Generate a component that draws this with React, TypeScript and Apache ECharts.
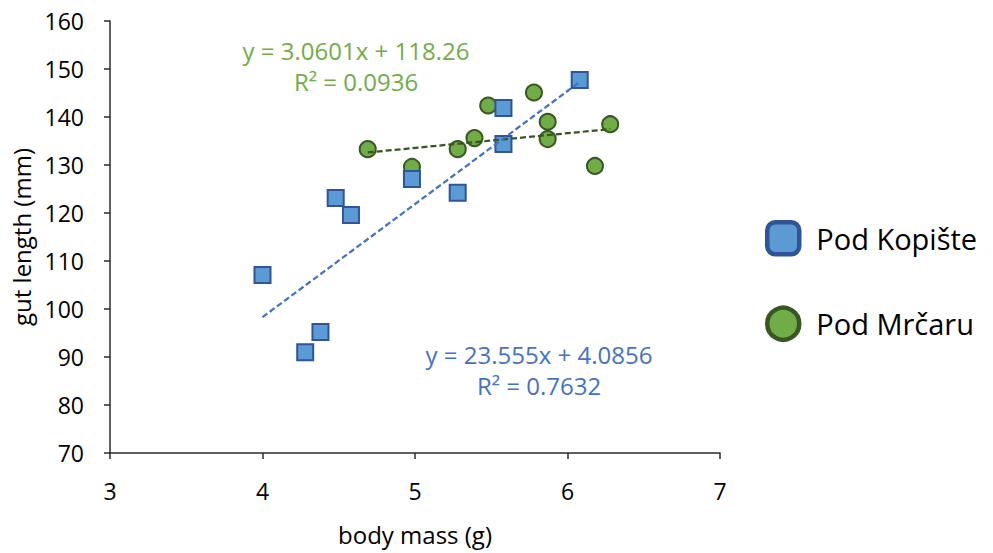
import React, { useEffect, useRef } from "react";
import * as echarts from "echarts";

// Body mass (g) and gut length (mm) per site
const kopisteMass = [4.0, 4.28, 4.38, 4.48, 4.58, 4.98, 5.28, 5.58, 5.58, 6.08];
const kopisteGut = [107.1, 91.0, 95.2, 123.1, 119.6, 127.1, 124.2, 141.9, 134.4, 147.7];
const mrcaruMass = [4.69, 4.98, 5.28, 5.39, 5.48, 5.78, 5.87, 5.87, 6.18, 6.28];
const mrcaruGut = [133.3, 129.6, 133.3, 135.6, 142.4, 145.1, 139.0, 135.4, 129.8, 138.5];

// Linear fits: [slope, intercept, R²]
const kopisteFit = [23.555, 4.0856, 0.7632];
const mrcaruFit = [3.0601, 118.26, 0.0936];

const seriesNames = ["Pod Kopište", "Pod Mrčaru"];
const xTicks = { min: 3, max: 7, interval: 1 };
const yTicks = { min: 70, max: 160, interval: 10 };

const FONT = "'Open Sans', 'Noto Sans', sans-serif";

const zip = (xs: number[], ys: number[]) => xs.map((x, i) => [x, ys[i]]);

const fitLine = (xs: number[], fit: number[]) => {
  const lo = Math.min(...xs);
  const hi = Math.max(...xs);
  return [
    [lo, fit[0] * lo + fit[1]],
    [hi, fit[0] * hi + fit[1]],
  ];
};

const fitText = (fit: number[]) =>
  `y = ${fit[0]}x + ${fit[1]}\nR² = ${fit[2]}`;

export default function App() {
  const ref = useRef<HTMLDivElement>(null);

  useEffect(() => {
    document.body.style.margin = "0";
    if (!ref.current) return;
    const chart = echarts.init(ref.current, undefined, { renderer: "svg" });

    const axisColor = "#2b2b2b";

    chart.setOption({
      animation: false,
      backgroundColor: "#ffffff",
      grid: { left: 110, right: 273, top: 21, bottom: 100 },
      xAxis: {
        type: "value",
        min: xTicks.min,
        max: xTicks.max,
        interval: xTicks.interval,
        name: "body mass (g)",
        nameLocation: "middle",
        nameGap: 69,
        nameTextStyle: { fontFamily: FONT, fontSize: 24, color: "#000" },
        axisLine: { show: true, onZero: false, lineStyle: { color: axisColor, width: 1.5 } },
        axisTick: { show: true, length: 6, lineStyle: { color: axisColor, width: 1.5 } },
        axisLabel: { margin: 26, fontFamily: FONT, fontSize: 23, color: "#000" },
        splitLine: { show: false },
      },
      yAxis: {
        type: "value",
        min: yTicks.min,
        max: yTicks.max,
        interval: yTicks.interval,
        name: "gut length (mm)",
        nameLocation: "middle",
        nameGap: 75,
        nameTextStyle: { fontFamily: FONT, fontSize: 24, color: "#000" },
        axisLine: { show: true, onZero: false, lineStyle: { color: axisColor, width: 1.5 } },
        axisTick: { show: true, length: 6, lineStyle: { color: axisColor, width: 1.5 } },
        axisLabel: { margin: 26, fontFamily: FONT, fontSize: 23, color: "#000" },
        splitLine: { show: false },
      },
      legend: {
        orient: "vertical",
        left: 765,
        top: 220,
        padding: 0,
        itemWidth: 32,
        itemHeight: 32,
        itemGap: 49,
        textStyle: {
          fontFamily: FONT,
          fontSize: 29,
          color: "#000",
          padding: [8, 0, 0, 12],
        },
        data: [
          {
            name: seriesNames[0],
            icon: "roundRect",
            itemStyle: { color: "#5B9BD5", borderColor: "#2F5597", borderWidth: 4.5 },
          },
          {
            name: seriesNames[1],
            icon: "circle",
            itemStyle: { color: "#70AD47", borderColor: "#385723", borderWidth: 4.5 },
          },
        ],
      },
      graphic: [
        {
          type: "text",
          x: 356,
          y: 66,
          style: {
            text: fitText(mrcaruFit),
            fontFamily: FONT,
            fontSize: 24,
            lineHeight: 31,
            fill: "#70AD47",
            align: "center",
            verticalAlign: "middle",
          },
        },
        {
          type: "text",
          x: 539,
          y: 370,
          style: {
            text: fitText(kopisteFit),
            fontFamily: FONT,
            fontSize: 24,
            lineHeight: 31,
            fill: "#4472C4",
            align: "center",
            verticalAlign: "middle",
          },
        },
      ],
      series: [
        {
          name: seriesNames[1],
          type: "scatter",
          symbol: "circle",
          symbolSize: 16,
          data: zip(mrcaruMass, mrcaruGut),
          itemStyle: { color: "#70AD47", borderColor: "#385723", borderWidth: 2, opacity: 1 },
          z: 2,
        },
        {
          name: seriesNames[0],
          type: "scatter",
          symbol: "rect",
          symbolSize: 16,
          data: zip(kopisteMass, kopisteGut),
          itemStyle: { color: "#5B9BD5", borderColor: "#2F5597", borderWidth: 2, opacity: 1 },
          z: 3,
        },
        {
          name: "Pod Mrčaru trend",
          type: "line",
          data: fitLine(mrcaruMass, mrcaruFit),
          showSymbol: false,
          symbol: "none",
          lineStyle: { color: "#375623", width: 2.25, type: [6, 3] },
          z: 4,
          silent: true,
        },
        {
          name: "Pod Kopište trend",
          type: "line",
          data: fitLine(kopisteMass, kopisteFit),
          showSymbol: false,
          symbol: "none",
          lineStyle: { color: "#4472C4", width: 2.25, type: [6, 3] },
          z: 5,
          silent: true,
        },
      ],
    });

    return () => chart.dispose();
  }, []);

  return <div ref={ref} style={{ width: 993, height: 553 }} />;
}
